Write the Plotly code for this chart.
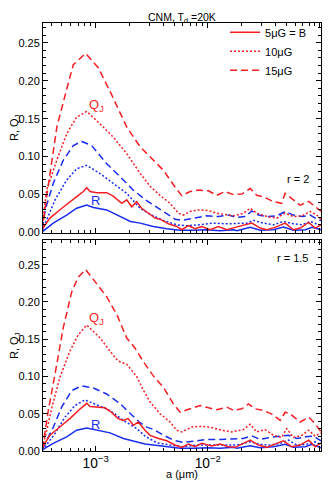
import plotly.graph_objects as go
from plotly.subplots import make_subplots

# (log10 a [um], value) pairs
# top panel, r = 2
top_qj5 = [(-3.48, 0.004), (-3.408, 0.019), (-3.319, 0.030), (-3.23, 0.041), (-3.155, 0.049), (-3.11, 0.054),
           (-3.08, 0.059), (-3.05, 0.054), (-2.99, 0.0525), (-2.902, 0.0525), (-2.843, 0.048), (-2.768, 0.0385),
           (-2.723, 0.043), (-2.679, 0.034), (-2.634, 0.0407), (-2.59, 0.032), (-2.53, 0.026), (-2.47, 0.019),
           (-2.426, 0.0176), (-2.352, 0.0115), (-2.277, 0.008), (-2.232, 0.0037), (-2.173, 0.009), (-2.113, 0.005),
           (-2.054, 0.008), (-1.979, 0.0037), (-1.905, 0.008), (-1.83, 0.0037), (-1.756, 0.0068), (-1.667, 0.0102),
           (-1.607, 0.0124), (-1.533, 0.0059), (-1.473, 0.0037), (-1.4, 0.0068), (-1.31, 0.0124), (-1.236, 0.0037),
           (-1.176, 0.0059), (-1.1, 0.0133), (-1.042, 0.0059), (-0.99, 0.0102)]
top_qj10 = [(-3.475, 0.01), (-3.4375, 0.056), (-3.348, 0.095), (-3.259, 0.130), (-3.17, 0.152), (-3.08, 0.1595),
            (-2.96, 0.143), (-2.843, 0.1256), (-2.723, 0.104), (-2.604, 0.078), (-2.515, 0.061), (-2.426, 0.049),
            (-2.337, 0.0385), (-2.262, 0.0255), (-2.218, 0.023), (-2.158, 0.0277), (-2.084, 0.0298), (-1.994, 0.029),
            (-1.92, 0.0255), (-1.83, 0.023), (-1.77, 0.022), (-1.68, 0.0255), (-1.622, 0.032), (-1.563, 0.0255),
            (-1.47, 0.021), (-1.384, 0.019), (-1.31, 0.0255), (-1.236, 0.021), (-1.16, 0.022), (-1.087, 0.0277),
            (-1.027, 0.023), (-0.99, 0.0176)]
top_qj15 = [(-3.475, 0.003), (-3.44, 0.045), (-3.38, 0.105), (-3.345, 0.14), (-3.274, 0.18), (-3.2, 0.221),
            (-3.09, 0.236), (-2.977, 0.217), (-2.872, 0.186), (-2.723, 0.139), (-2.604, 0.113), (-2.515, 0.0995),
            (-2.455, 0.091), (-2.396, 0.082), (-2.292, 0.060), (-2.232, 0.0486), (-2.158, 0.054), (-2.084, 0.056),
            (-1.994, 0.055), (-1.92, 0.049), (-1.845, 0.054), (-1.771, 0.050), (-1.696, 0.0507), (-1.622, 0.058),
            (-1.563, 0.049), (-1.504, 0.047), (-1.414, 0.0407), (-1.34, 0.0385), (-1.31, 0.0516), (-1.25, 0.045),
            (-1.176, 0.036), (-1.1, 0.041), (-1.042, 0.034), (-0.99, 0.028)]
top_r5 = [(-3.48, 0.0005), (-3.379, 0.0124), (-3.259, 0.023), (-3.17, 0.032), (-3.08, 0.0363), (-3.02, 0.033),
          (-2.902, 0.0298), (-2.78, 0.021), (-2.69, 0.0146), (-2.604, 0.0124), (-2.515, 0.009), (-2.486, 0.008),
          (-2.366, 0.005), (-2.246, 0.0029), (-2.128, 0.003), (-2.009, 0.0037), (-1.89, 0.0024), (-1.77, 0.0037),
          (-1.74, 0.0024), (-1.622, 0.0068), (-1.533, 0.003), (-1.414, 0.0037), (-1.325, 0.0072), (-1.236, 0.003),
          (-1.13, 0.0037), (-1.07, 0.0068), (-0.99, 0.0037)]
top_r10 = [(-3.475, 0.003), (-3.45, 0.0124), (-3.363, 0.043), (-3.259, 0.069), (-3.17, 0.084), (-3.08, 0.0885),
           (-2.96, 0.0777), (-2.843, 0.0646), (-2.723, 0.0516), (-2.604, 0.032), (-2.515, 0.024), (-2.396, 0.016),
           (-2.277, 0.0102), (-2.188, 0.009), (-2.068, 0.0102), (-1.95, 0.0124), (-1.83, 0.0115), (-1.74, 0.012),
           (-1.652, 0.0124), (-1.593, 0.016), (-1.504, 0.0124), (-1.414, 0.0102), (-1.325, 0.0146), (-1.236, 0.0115),
           (-1.16, 0.0102), (-1.087, 0.0146), (-1.012, 0.0102), (-0.99, 0.010)]
top_r15 = [(-3.475, 0.005), (-3.45, 0.030), (-3.379, 0.0646), (-3.29, 0.095), (-3.2, 0.1146), (-3.125, 0.120),
           (-3.036, 0.1146), (-2.902, 0.0907), (-2.78, 0.0733), (-2.664, 0.0558), (-2.545, 0.042), (-2.486, 0.0363),
           (-2.381, 0.0255), (-2.292, 0.0176), (-2.232, 0.016), (-2.13, 0.019), (-2.009, 0.022), (-1.905, 0.021),
           (-1.816, 0.023), (-1.74, 0.020), (-1.667, 0.021), (-1.607, 0.0285), (-1.548, 0.023), (-1.46, 0.021),
           (-1.384, 0.022), (-1.31, 0.0277), (-1.236, 0.023), (-1.16, 0.021), (-1.087, 0.023), (-1.012, 0.0167),
           (-0.99, 0.016)]

# bottom panel, r = 1.5
bot_qj5 = [(-3.48, 0.0036), (-3.408, 0.0212), (-3.32, 0.0322), (-3.23, 0.0434), (-3.155, 0.0544), (-3.08, 0.064),
           (-3.05, 0.0597), (-2.99, 0.0588), (-2.917, 0.058), (-2.86, 0.0521), (-2.8, 0.0434), (-2.753, 0.0411),
           (-2.71, 0.0434), (-2.664, 0.0345), (-2.62, 0.0389), (-2.56, 0.0279), (-2.515, 0.021), (-2.44, 0.0168),
           (-2.366, 0.0137), (-2.292, 0.008), (-2.232, 0.0049), (-2.173, 0.0093), (-2.113, 0.0057), (-2.054, 0.0102),
           (-1.965, 0.0066), (-1.89, 0.0093), (-1.816, 0.0057), (-1.756, 0.0049), (-1.682, 0.0102), (-1.622, 0.0146),
           (-1.548, 0.008), (-1.473, 0.0049), (-1.384, 0.0102), (-1.325, 0.0137), (-1.25, 0.0057), (-1.176, 0.008),
           (-1.1, 0.0146), (-1.042, 0.0057), (-0.99, 0.011)]
bot_qj10 = [(-3.475, 0.005), (-3.45, 0.019), (-3.39, 0.0588), (-3.32, 0.0985), (-3.23, 0.134), (-3.155, 0.156),
            (-3.08, 0.169), (-2.96, 0.1516), (-2.872, 0.134), (-2.8, 0.1207), (-2.723, 0.1163), (-2.634, 0.100),
            (-2.58, 0.083), (-2.515, 0.066), (-2.426, 0.05), (-2.337, 0.0389), (-2.277, 0.0279), (-2.232, 0.0256),
            (-2.143, 0.0322), (-2.054, 0.0332), (-1.965, 0.0314), (-1.876, 0.0279), (-1.786, 0.0256), (-1.74, 0.027),
            (-1.682, 0.0288), (-1.622, 0.0358), (-1.563, 0.0256), (-1.49, 0.0288), (-1.414, 0.0212), (-1.34, 0.0182),
            (-1.296, 0.03), (-1.236, 0.0182), (-1.16, 0.0212), (-1.1, 0.0279), (-1.042, 0.0199), (-0.99, 0.0243)]
bot_qj15 = [(-3.475, 0.003), (-3.423, 0.054), (-3.363, 0.103), (-3.29, 0.165), (-3.214, 0.2135), (-3.155, 0.2334),
            (-3.09, 0.2436), (-3.006, 0.2268), (-2.902, 0.207), (-2.81, 0.1826), (-2.723, 0.1516), (-2.65, 0.1383),
            (-2.575, 0.12), (-2.486, 0.1008), (-2.396, 0.0853), (-2.307, 0.0633), (-2.247, 0.0521), (-2.158, 0.0566),
            (-2.069, 0.061), (-1.994, 0.058), (-1.92, 0.0553), (-1.83, 0.0588), (-1.77, 0.0544), (-1.696, 0.0566),
            (-1.637, 0.0633), (-1.577, 0.0566), (-1.504, 0.0544), (-1.42, 0.049), (-1.354, 0.041), (-1.31, 0.052),
            (-1.266, 0.05), (-1.176, 0.0389), (-1.1, 0.0455), (-1.042, 0.0367), (-0.99, 0.0256)]
bot_r5 = [(-3.48, 0.0013), (-3.379, 0.0102), (-3.259, 0.019), (-3.17, 0.0279), (-3.08, 0.031), (-2.99, 0.0279),
          (-2.872, 0.0243), (-2.753, 0.0168), (-2.634, 0.0124), (-2.56, 0.0095), (-2.486, 0.008), (-2.366, 0.0057),
          (-2.246, 0.0036), (-2.128, 0.0036), (-2.009, 0.0044), (-1.89, 0.0036), (-1.77, 0.0049), (-1.74, 0.0036),
          (-1.622, 0.007), (-1.533, 0.0044), (-1.414, 0.0057), (-1.31, 0.0089), (-1.236, 0.0049), (-1.13, 0.0057),
          (-1.07, 0.0089), (-0.99, 0.0044)]
bot_r10 = [(-3.475, 0.001), (-3.45, 0.0057), (-3.363, 0.0235), (-3.274, 0.0455), (-3.185, 0.061), (-3.096, 0.0686),
           (-2.99, 0.0623), (-2.872, 0.0544), (-2.753, 0.0411), (-2.634, 0.0301), (-2.56, 0.020), (-2.455, 0.011),
           (-2.337, 0.008), (-2.218, 0.0057), (-2.098, 0.008), (-1.98, 0.008), (-1.86, 0.007), (-1.74, 0.008),
           (-1.622, 0.0123), (-1.533, 0.0089), (-1.443, 0.008), (-1.354, 0.0102), (-1.28, 0.0146), (-1.206, 0.008),
           (-1.12, 0.0089), (-1.042, 0.0123), (-0.99, 0.008)]
bot_r15 = [(-3.475, 0.003), (-3.45, 0.0102), (-3.377, 0.0322), (-3.304, 0.0588), (-3.214, 0.081), (-3.125, 0.0875),
           (-3.02, 0.0845), (-2.902, 0.0765), (-2.78, 0.0633), (-2.69, 0.05), (-2.604, 0.038), (-2.545, 0.032),
           (-2.486, 0.029), (-2.396, 0.0212), (-2.307, 0.0146), (-2.218, 0.0115), (-2.113, 0.0137), (-2.01, 0.0155),
           (-1.89, 0.0155), (-1.77, 0.016), (-1.682, 0.0168), (-1.607, 0.0203), (-1.533, 0.0155), (-1.443, 0.0182),
           (-1.354, 0.0199), (-1.28, 0.0212), (-1.206, 0.0168), (-1.13, 0.019), (-1.056, 0.0199), (-0.99, 0.0137)]

field_labels = ["5\u03bcG = B", "10\u03bcG", "15\u03bcG"]
panel_labels = ["r = 2", "r = 1.5"]

RED = "rgb(245,30,35)"
BLUE = "rgb(25,45,240)"
DASHES = ["solid", "2px,2px", "7px,4px"]
FONT = "Liberation Sans, Arial, sans-serif"

fig = make_subplots(rows=2, cols=1, shared_xaxes=True, vertical_spacing=0.02)

panels = [(top_qj5, top_qj10, top_qj15, top_r5, top_r10, top_r15),
          (bot_qj5, bot_qj10, bot_qj15, bot_r5, bot_r10, bot_r15)]

for row, curves in enumerate(panels, start=1):
    qj, rr = curves[:3], curves[3:]
    for i, c in enumerate(rr):
        fig.add_trace(go.Scatter(x=[10 ** p[0] for p in c], y=[p[1] for p in c], mode="lines",
                                 line=dict(color=BLUE, width=1.5, dash=DASHES[i]), showlegend=False),
                      row=row, col=1)
    for i, c in enumerate(qj):
        fig.add_trace(go.Scatter(x=[10 ** p[0] for p in c], y=[p[1] for p in c], mode="lines",
                                 name=field_labels[i], line=dict(color=RED, width=1.5, dash=DASHES[i]),
                                 showlegend=(row == 1)),
                      row=row, col=1)

axis_common = dict(showline=True, linecolor="black", linewidth=1, mirror="allticks",
                   ticks="inside", ticklen=5, tickcolor="black", showgrid=False, zeroline=False,
                   automargin=False, tickfont=dict(size=11, color="black"))

y_ranges = [[0, 0.276], [0, 0.2825]]
for row in (1, 2):
    fig.update_xaxes(type="log", range=[-3.47, -0.99], dtick=1, exponentformat="power",
                     minor=dict(ticks="inside", ticklen=3, tickcolor="black", dtick="D1", showgrid=False),
                     showticklabels=(row == 2), row=row, col=1, **axis_common)
    fig.update_yaxes(range=y_ranges[row - 1], dtick=0.05, tickformat=".2f",
                     minor=dict(ticks="inside", ticklen=3, tickcolor="black", dtick=0.01, showgrid=False),
                     title=dict(text="R, Q<sub>J</sub>", font=dict(size=11, color="black"), standoff=2),
                     row=row, col=1, **axis_common)

fig.update_layout(yaxis=dict(domain=[0.5104, 1.0]), yaxis2=dict(domain=[0.0, 0.4919]))

ann = [
    dict(x=-2.99, y=0.168, xref="x", yref="y", text="Q<sub>J</sub>", font=dict(color=RED, size=13)),
    dict(x=-3.006, y=0.0424, xref="x", yref="y", text="R", font=dict(color=BLUE, size=13)),
    dict(x=-2.99, y=0.178, xref="x2", yref="y2", text="Q<sub>J</sub>", font=dict(color=RED, size=13)),
    dict(x=-3.006, y=0.0358, xref="x2", yref="y2", text="R", font=dict(color=BLUE, size=13)),
    dict(x=-1.075, y=0.071, xref="x", yref="y", text=panel_labels[0], xanchor="right",
         font=dict(color="black", size=11)),
    dict(x=-1.075, y=0.2586, xref="x2", yref="y2", text=panel_labels[1], xanchor="right",
         font=dict(color="black", size=11)),
    dict(x=0.5, y=1.0, xref="paper", yref="paper", text="CNM, T<sub>d</sub> =20K", yanchor="middle",
         yshift=5, font=dict(color="black", size=10.5)),
    dict(x=0.5, y=0.0, xref="paper", yref="paper", text="a (\u03bcm)", yanchor="middle", yshift=-23,
         font=dict(color="black", size=11)),
]
for a in ann:
    a.setdefault("showarrow", False)
fig.update_layout(annotations=ann)

# the page adds an 8px body margin, so the figure is shifted to compensate
fig.update_layout(
    width=324, height=472,
    margin=dict(l=35, r=11, t=10, b=29),
    paper_bgcolor="white", plot_bgcolor="white",
    font=dict(family=FONT, size=11, color="black"),
    legend=dict(x=0.655, y=1.012, xanchor="left", yanchor="top", bgcolor="rgba(0,0,0,0)",
                font=dict(size=11), itemwidth=30, tracegroupgap=0),
)

fig.write_html("out.html")
